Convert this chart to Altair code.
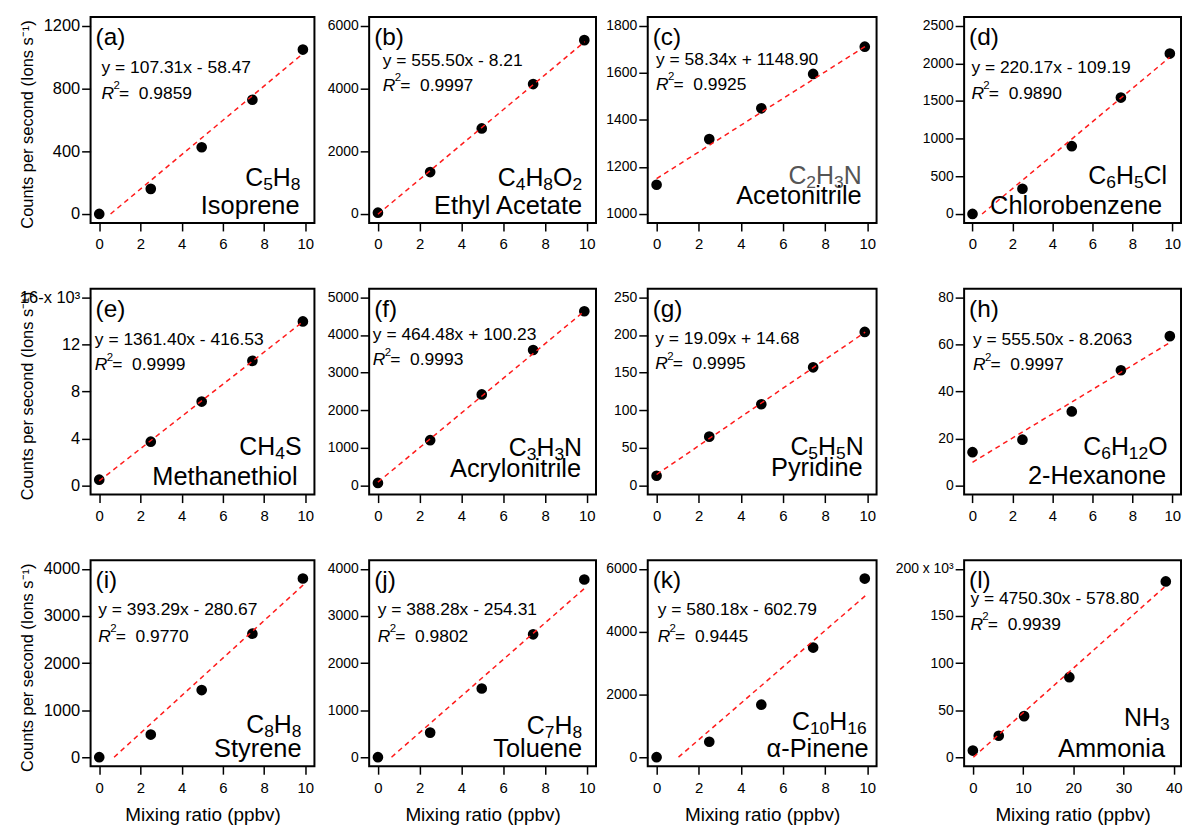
import altair as alt
import pandas as pd

FONT = "Liberation Sans"

# ---------------- values ----------------
panel_tags = ["(a)", "(b)", "(c)", "(d)", "(e)", "(f)", "(g)", "(h)", "(i)", "(j)", "(k)", "(l)"]
compound_names = ["Isoprene", "Ethyl Acetate", "Acetonitrile", "Chlorobenzene",
                  "Methanethiol", "Acrylonitrile", "Pyridine", "2-Hexanone",
                  "Styrene", "Toluene", "α-Pinene", "Ammonia"]
formulas = ["C{5}H{8}", "C{4}H{8}O{2}", "C{2}H{3}N", "C{6}H{5}Cl",
            "CH{4}S", "C{3}H{3}N", "C{5}H{5}N", "C{6}H{12}O",
            "C{8}H{8}", "C{7}H{8}", "C{10}H{16}", "NH{3}"]
equations = ["y = 107.31x - 58.47", "y = 555.50x - 8.21", "y = 58.34x + 1148.90",
             "y = 220.17x - 109.19", "y = 1361.40x - 416.53", "y = 464.48x + 100.23",
             "y = 19.09x + 14.68", "y = 555.50x - 8.2063", "y = 393.29x - 280.67",
             "y = 388.28x - 254.31", "y = 580.18x - 602.79", "y = 4750.30x - 578.80"]
r_squared = ["0.9859", "0.9997", "0.9925", "0.9890", "0.9999", "0.9993",
             "0.9995", "0.9997", "0.9770", "0.9802", "0.9445", "0.9939"]

mixing_ratio_10 = [0, 2.5, 4.97, 7.43, 9.88]
mixing_ratio_nh3 = [0, 5.15, 10.2, 19.2, 38.4]

counts_isoprene = [0, 160, 425, 728, 1048]
counts_ethyl_acetate = [40, 1335, 2725, 4140, 5540]
counts_acetonitrile = [1124, 1318, 1449, 1595, 1711]
counts_chlorobenzene = [0, 335, 900, 1546, 2130]
counts_methanethiol_k = [0.5, 3.73, 7.14, 10.6, 13.95]      # x 10^3
counts_acrylonitrile = [70, 1205, 2420, 3600, 4630]
counts_pyridine = [13, 65, 108, 157, 204]
counts_hexanone = [14.2, 19.5, 31.5, 49, 63.5]
counts_styrene = [0, 480, 1426, 2624, 3796]
counts_toluene = [0, 522, 1460, 2611, 3775]
counts_pinene = [0, 493, 1674, 3493, 5693]
counts_ammonia_k = [7.0, 22.8, 43.6, 85, 186.7]              # x 10^3

counts = [counts_isoprene, counts_ethyl_acetate, counts_acetonitrile, counts_chlorobenzene,
          counts_methanethiol_k, counts_acrylonitrile, counts_pyridine, counts_hexanone,
          counts_styrene, counts_toluene, counts_pinene, counts_ammonia_k]

# drawn fit lines (end points as read)
fit_x_start = [0.55, 0, 0, 0.48, 0, 0, 0, 0, 0.72, 0.65, 1.04, 0.1]
fit_x_end = [9.8, 9.9, 9.9, 9.87, 9.9, 9.9, 9.9, 9.87, 9.9, 9.9, 9.9, 38.4]
fit_y_start = [0, -8, 1150, 0, 0.4, 90, 14.7, 9.9, 0, 0, 0, 0]
fit_y_end = [1013, 5490, 1712, 2080, 13.95, 4640, 203.7, 60.7, 3660, 3590, 5140, 182]

# axis ticks
y_tick_min = [0, 0, 1000, 0, 0, 0, 0, 0, 0, 0, 0, 0]
y_tick_max = [1200, 6000, 1800, 2500, 16, 5000, 250, 80, 4000, 4000, 6000, 200]
y_tick_step = [200, 1000, 200, 500, 2, 1000, 50, 20, 1000, 1000, 1000, 50]
x_ticks_10 = [0, 2, 4, 6, 8, 10]
x_ticks_nh3 = [0, 10, 20, 30, 40]

y_title = "Counts per second (Ions s⁻¹)"
x_title = "Mixing ratio (ppbv)"

# ---------------- layout / style ----------------
col_widths = [225, 228, 230, 218]
panel_h = 207
y_extent = [48, 49, 46, 82]
col_spacing = 4
row_spacing = 31
x_extent = 33

eq_dx = [11, 13.7, 8.3, 7.3, 4.3, 3.7, 7.6, 9, 7.7, 8.7, 10, 6.3]
eq_base = [56, 49, 48, 56, 57, 52, 56, 57, 55, 55, 55, 44]
r2_base = [82, 74, 73, 82, 82, 77, 81, 82, 82, 82, 82, 70]
form_right = [14, 14, 15, 14, 13, 14, 13, 13.5, 13, 14, 10, 11.4]
form_base = [170, 170, 168, 168, 167, 168, 167, 167, 174, 175, 171, 167]
name_right = [15, 14, 15, 19, 17, 15, 14, 15, 13, 14, 8, 16]
name_base = [198, 198, 188, 198, 197, 189, 188, 196, 198, 198, 198, 198]

F_MAIN = 25
F_SUB = 17.5
SUB_DY = 4
ADV = {"C": 0.722, "H": 0.722, "N": 0.722, "O": 0.778, "S": 0.667, "l": 0.222}


def parse_formula(f):
    segs = []
    buf = ""
    sub = False
    for ch in f:
        if ch == "{":
            if buf:
                segs.append((buf, False))
            buf = ""
            sub = True
        elif ch == "}":
            segs.append((buf, True))
            buf = ""
            sub = False
        else:
            buf += ch
    if buf:
        segs.append((buf, sub))
    return segs


def seg_width(text, sub):
    size = F_SUB if sub else F_MAIN
    return sum(ADV.get(c, 0.556) for c in text) * size


def text_layer(txt, x, y, size, align="left", color="black", style="normal"):
    return alt.Chart(alt.Data(values=[{}])).mark_text(
        text=txt, align=align, baseline="alphabetic", font=FONT, fontSize=size,
        color=color, fontStyle=style
    ).encode(x=alt.value(x), y=alt.value(y))


panels = []
for i in range(12):
    row, col = divmod(i, 4)
    w = col_widths[col]
    is_nh3 = i == 11
    xs = mixing_ratio_nh3 if is_nh3 else mixing_ratio_10
    df_pts = pd.DataFrame({"x": xs, "y": counts[i]})
    df_fit = pd.DataFrame({"x": [fit_x_start[i], fit_x_end[i]],
                           "y": [fit_y_start[i], fit_y_end[i]]})

    lo, hi = y_tick_min[i], y_tick_max[i]
    rng = hi - lo
    ydom = [lo - 0.048 * rng, hi + 0.046 * rng]
    yvals = list(range(lo, hi + 1, y_tick_step[i]))
    xdom = [-1.74, 41.43] if is_nh3 else [-0.42, 10.44]
    xvals = x_ticks_nh3 if is_nh3 else x_ticks_10

    ykw = dict(values=yvals, format="d", tickSize=9, labelPadding=2,
               labelFontSize=16.5 if col == 0 else 14, labelFont=FONT,
               labelColor="black", tickColor="black", tickWidth=1.5,
               domain=False, grid=False, minExtent=y_extent[col],
               maxExtent=y_extent[col], labelOverlap=False,
               titleFont=FONT, titleFontSize=16.5, titleFontWeight="normal",
               titleColor="black", titlePadding=7, titleY=107.5)
    if i == 4:
        ykw["labelExpr"] = ("datum.value == 16 ? '16-x 10³' : "
                            "(datum.value % 4 == 0 ? datum.label : '')")
    if i == 11:
        ykw["labelExpr"] = "datum.value == 200 ? '200 x 10³' : datum.label"

    xkw = dict(values=xvals, format="d", tickSize=8, labelPadding=6, labelFontSize=15,
               labelFont=FONT, labelColor="black", tickColor="black",
               tickWidth=1.5, domain=False, grid=False, minExtent=x_extent,
               maxExtent=x_extent, labelFlush=False, labelOverlap=False,
               titleFont=FONT, titleFontSize=19, titleFontWeight="normal",
               titleColor="black", titlePadding=7)

    xenc = alt.X("x:Q", scale=alt.Scale(domain=xdom, nice=False, zero=False),
                 axis=alt.Axis(**xkw), title=x_title if row == 2 else None)
    yenc = alt.Y("y:Q", scale=alt.Scale(domain=ydom, nice=False, zero=False),
                 axis=alt.Axis(**ykw), title=y_title if col == 0 else None)

    pts = alt.Chart(df_pts).mark_circle(size=115, color="black", opacity=1).encode(
        x=xenc, y=yenc)
    fit = alt.Chart(df_fit).mark_line(color="#ff1a1a", strokeDash=[5, 4],
                                      strokeWidth=1.5).encode(x="x:Q", y="y:Q")

    layers = [pts, fit]
    layers.append(text_layer(panel_tags[i], 5, 28, 24.5))
    ex = eq_dx[i]
    layers.append(text_layer(equations[i], ex, eq_base[i], 17.5))
    layers.append(text_layer("R", ex, r2_base[i], 17.5, style="italic"))
    layers.append(text_layer("2", ex + 12, r2_base[i] - 9.5, 11.5))
    layers.append(text_layer("=\u00a0\u00a0" + r_squared[i], ex + 17.5, r2_base[i], 17.5))

    segs = parse_formula(formulas[i])
    total = sum(seg_width(t, s) for t, s in segs)
    cx = w - form_right[i] - total
    fcolor = "#555555" if i == 2 else "black"
    for t, s in segs:
        layers.append(text_layer(t, cx, form_base[i] + (SUB_DY if s else 0),
                                 F_SUB if s else F_MAIN, color=fcolor))
        cx += seg_width(t, s)
    layers.append(text_layer(compound_names[i], w - name_right[i], name_base[i], 25.5,
                             align="right"))

    panels.append(alt.layer(*layers).properties(width=w, height=panel_h))

chart = alt.concat(*panels, columns=4, spacing={"row": row_spacing, "column": col_spacing},
                   align="each").properties(
    padding={"left": 10, "top": 6, "right": 0, "bottom": 0}
).configure_view(stroke="black", strokeWidth=2)

chart.save("out.html", embed_options={"renderer": "svg", "actions": False})
